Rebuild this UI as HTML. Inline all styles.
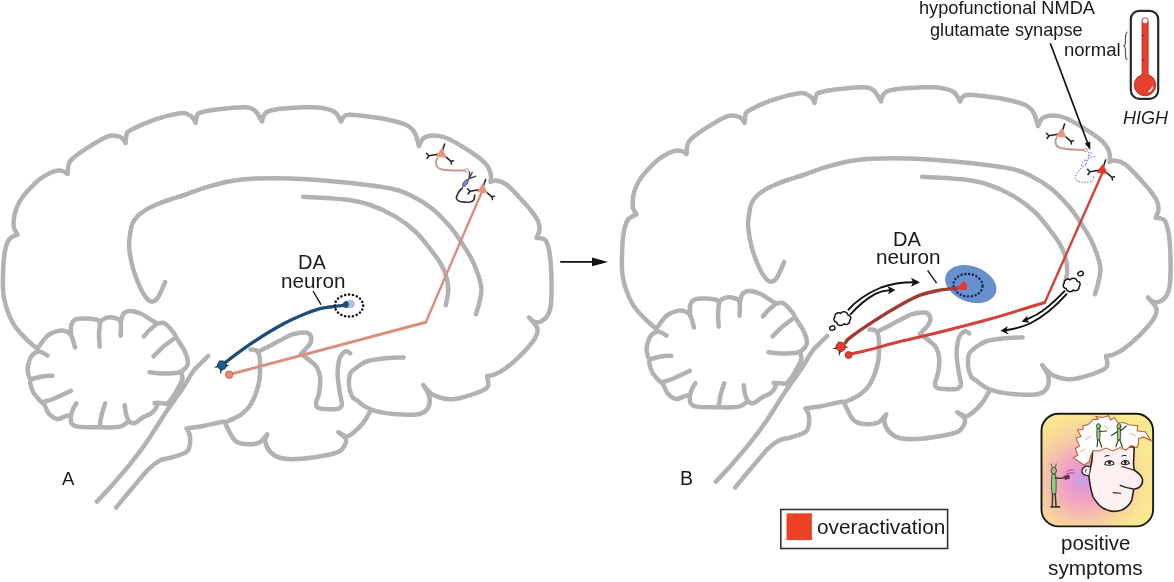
<!DOCTYPE html>
<html><head><meta charset="utf-8"><style>
html,body{margin:0;padding:0;background:#fff;}
body{width:1174px;height:582px;position:relative;overflow:hidden;font-family:"Liberation Sans",sans-serif;color:#1a1a1a;}
svg{position:absolute;left:0;top:0;}
.t{position:absolute;white-space:nowrap;line-height:1;will-change:transform;}
</style></head><body>
<svg width="1174" height="582" viewBox="0 0 1174 582">
<g id="brain" fill="none" stroke="#b2b2b2" stroke-width="4.5" stroke-linecap="round" stroke-linejoin="round"><path d="M37.4 348.9C35.5 347.2 29.9 342.9 25.8 338.6C21.7 334.3 16.6 329.9 12.9 323.0C9.2 316.1 5.5 305.9 3.9 297.3C2.3 288.7 2.9 279.4 3.1 271.5C3.3 263.6 4.1 255.4 5.2 250.0C6.3 244.6 7.4 241.6 9.5 239.0C11.6 236.4 16.2 235.2 17.5 234.5M17.5 234.5C16.9 233.4 14.6 230.4 14.0 228.0C13.4 225.6 13.6 222.8 13.8 220.0C14.1 217.2 14.5 214.2 15.5 211.0C16.5 207.8 18.3 204.0 20.0 201.0C21.7 198.0 22.7 196.5 25.8 193.0C28.9 189.5 34.7 183.3 38.7 180.0C42.7 176.7 46.8 174.6 50.0 173.0C53.2 171.4 55.7 170.8 58.0 170.5C60.3 170.2 62.4 170.9 64.0 171.5C65.6 172.1 66.9 173.6 67.5 174.0M67.5 174.0C67.7 172.5 67.8 167.5 68.5 165.0C69.2 162.5 69.2 161.6 72.0 159.0C74.8 156.4 79.0 153.1 85.0 149.3C91.0 145.5 102.4 138.6 108.0 136.4C113.6 134.2 116.0 136.0 118.5 136.4C121.0 136.8 121.8 137.9 123.0 139.0C124.2 140.1 125.1 142.3 125.5 143.0M125.5 143.0C125.7 141.7 125.8 137.1 126.5 135.0C127.2 132.9 125.3 133.1 130.0 130.5C134.7 127.9 146.3 122.5 154.6 119.6C162.9 116.7 174.4 114.0 180.0 113.2C185.6 112.4 185.8 113.7 188.0 114.5C190.2 115.3 191.8 116.6 193.0 118.0C194.2 119.4 195.1 122.2 195.5 123.0M195.5 123.0C195.8 121.8 196.2 117.8 197.0 116.0C197.8 114.2 197.0 113.6 200.6 112.5C204.2 111.4 211.4 110.1 218.7 109.2C226.0 108.3 238.4 107.0 244.4 107.2C250.4 107.4 251.8 108.2 254.7 110.6C257.6 113.0 260.8 119.7 262.0 121.5M262.0 121.5C262.3 120.4 262.8 116.8 264.0 115.0C265.2 113.2 265.8 112.1 269.0 111.0C272.2 109.9 277.8 109.1 283.0 108.5C288.2 107.9 294.0 107.6 300.0 107.4C306.0 107.2 313.2 106.8 319.0 107.6C324.8 108.4 330.9 109.7 334.6 112.0C338.3 114.3 339.9 119.9 341.0 121.5M341.0 121.5C341.5 120.7 342.7 117.6 344.0 116.5C345.3 115.4 346.1 115.0 348.8 114.8C351.5 114.6 353.8 114.8 360.0 115.6C366.2 116.3 378.1 117.7 385.8 119.3C393.5 120.9 401.6 122.8 406.4 125.0C411.2 127.2 412.4 129.0 414.5 132.5C416.6 136.0 418.2 143.8 419.0 146.0M419.0 146.0C419.8 144.7 421.2 139.8 423.7 138.0C426.2 136.2 430.2 135.5 434.0 135.5C437.8 135.5 441.8 136.2 446.4 138.0C451.0 139.8 456.3 142.9 461.9 146.3C467.5 149.7 475.7 155.1 480.0 158.5C484.3 161.9 485.9 163.8 487.7 166.5C489.5 169.2 490.3 172.1 490.8 174.7C491.3 177.3 490.6 180.8 490.5 182.0M490.5 182.0C491.4 181.8 493.4 180.1 496.0 180.5C498.6 180.9 502.5 181.6 506.3 184.3C510.1 187.0 514.5 192.2 518.6 196.6C522.7 201.0 527.8 206.4 531.0 210.5C534.2 214.6 536.6 217.9 538.0 221.2C539.4 224.4 539.7 227.2 539.5 230.0C539.3 232.8 537.1 236.5 536.6 237.8M536.6 237.8C538.0 238.2 543.1 237.7 545.2 240.0C547.3 242.3 548.3 246.1 549.3 251.5C550.3 256.9 551.0 264.3 551.3 272.2C551.6 280.1 551.7 292.2 551.3 299.0C550.9 305.8 550.4 309.3 548.9 312.9C547.4 316.5 544.9 319.1 542.5 320.6C540.1 322.1 537.0 322.4 534.7 321.9C532.5 321.4 530.0 318.2 529.0 317.5M529.0 317.5C530.4 319.3 536.3 324.9 537.3 328.4C538.2 331.9 537.7 334.0 534.7 338.7C531.7 343.4 524.4 351.5 519.2 356.7C514.1 361.9 508.1 366.6 503.8 369.6C499.5 372.6 496.3 373.7 493.5 374.8C490.7 375.9 488.1 375.8 487.0 376.0M487.0 376.0C487.2 377.5 488.9 382.7 488.3 385.1C487.7 387.5 487.0 388.3 483.1 390.2C479.2 392.1 470.6 395.2 465.0 396.7C459.4 398.2 454.7 399.5 449.6 399.3C444.5 399.1 437.9 396.9 434.2 395.4C430.5 393.9 429.5 391.9 427.7 390.2C425.9 388.5 424.0 386.0 423.3 385.1M423.3 385.1C424.2 386.8 428.1 392.0 429.0 395.4C429.9 398.8 429.9 402.9 429.0 405.7C428.1 408.5 426.4 410.7 423.8 412.2C421.2 413.7 418.6 414.4 413.5 414.7C408.4 415.0 398.6 414.4 393.0 414.0C387.4 413.6 383.6 412.7 380.0 412.0C376.4 411.3 374.2 410.8 371.3 409.6C368.4 408.4 364.9 406.4 362.5 404.8C360.1 403.2 358.6 401.7 356.9 400.3C355.2 398.9 353.5 398.9 352.2 396.6C350.9 394.3 349.5 390.1 349.1 386.3C348.8 382.5 348.9 377.0 350.1 373.9C351.3 370.8 353.6 369.8 356.3 367.7C359.1 365.6 362.1 363.0 366.6 361.5C371.1 360.0 376.9 359.2 383.1 358.5C389.3 357.8 400.3 357.6 403.7 357.4M371.3 409.6C369.9 411.8 366.2 419.1 363.1 423.0C360.0 426.9 355.6 431.1 352.8 433.3C350.1 435.5 349.0 436.6 346.6 436.4C344.2 436.2 339.8 433.0 338.4 432.3M338.4 432.3C339.6 433.3 344.6 436.3 345.6 438.5C346.6 440.7 345.7 443.5 344.5 445.7C343.3 447.9 342.2 450.2 338.4 451.9C334.6 453.6 328.8 454.8 321.9 456.0C315.0 457.2 304.0 458.8 297.1 459.1C290.2 459.4 285.1 459.2 280.6 458.0C276.1 456.8 272.9 454.6 270.3 451.9C267.7 449.1 265.7 444.4 265.2 441.5C264.7 438.6 266.9 435.5 267.2 434.3M267.2 434.3C265.8 435.7 262.6 441.0 259.0 442.6C255.4 444.2 249.5 444.4 245.4 444.0C241.3 443.6 237.8 443.5 234.4 439.9C231.0 436.3 226.4 425.4 224.8 422.5M224.8 422.5C227.3 421.3 235.7 418.2 240.0 415.2C244.3 412.1 247.7 409.7 250.9 404.2C254.1 398.7 257.5 389.2 259.0 382.2C260.5 375.2 260.0 366.6 260.0 362.0C260.0 357.4 259.7 356.5 259.0 354.5C258.3 352.5 257.4 351.0 256.0 350.2C254.6 349.4 251.4 349.7 250.5 349.6M116.1 507.5C118.6 504.6 125.5 496.2 130.9 489.8C136.3 483.4 143.7 474.0 148.6 469.1C153.5 464.2 156.4 462.2 160.4 460.2C164.4 458.2 167.9 458.8 172.3 457.3C176.7 455.8 184.1 453.8 187.0 451.4C189.9 449.0 189.6 445.9 190.0 443.0C190.4 440.1 190.1 436.4 189.5 434.0C188.9 431.6 187.0 429.4 186.5 428.5M186.5 428.5C189.1 428.1 195.8 427.3 201.8 426.2C207.8 425.1 218.7 422.4 222.5 421.8C226.3 421.2 224.4 422.4 224.8 422.5M208.3 356.0C206.9 357.4 202.5 361.6 200.0 364.1C197.5 366.6 196.1 367.1 193.2 371.2C190.3 375.3 186.9 382.0 182.4 388.8C177.9 395.6 171.6 403.7 165.9 412.2C160.2 420.7 153.9 431.5 148.1 440.0C142.3 448.5 136.7 455.9 130.9 463.2C125.1 470.5 118.9 477.5 113.2 483.9C107.5 490.3 99.6 498.7 96.9 501.6M258.5 351.5C259.6 350.9 262.6 349.4 265.0 348.2C267.4 347.0 270.4 345.5 272.9 344.2C275.4 342.9 276.8 342.2 280.0 340.6C283.2 339.0 288.1 335.6 292.4 334.3C296.7 333.0 302.7 332.2 305.8 332.6C308.9 333.0 310.3 334.7 311.0 336.6C311.7 338.5 311.2 341.4 310.0 343.8C308.8 346.2 305.5 349.1 304.0 350.8C302.5 352.5 301.5 353.3 301.0 353.8M301.0 353.8C302.7 355.1 308.3 359.2 311.0 361.5C313.7 363.8 315.6 364.9 317.1 367.7C318.6 370.4 319.9 373.9 320.2 378.0C320.5 382.1 319.9 388.4 319.2 392.5C318.5 396.6 316.3 400.2 316.1 402.8C315.9 405.4 316.2 406.8 318.1 407.9C320.0 409.0 324.1 409.0 327.4 409.2C330.7 409.4 335.3 409.5 337.7 408.8C340.1 408.1 341.5 407.5 341.9 404.8C342.2 402.1 340.5 397.3 339.8 392.5C339.1 387.7 337.9 381.2 337.7 376.0C337.5 370.8 338.1 365.1 338.8 361.5C339.5 357.9 340.7 356.0 341.9 354.3C343.1 352.6 344.6 351.4 346.0 351.2C347.4 351.0 349.4 352.9 350.1 353.3M165.1 282.1C164.0 284.5 160.6 293.1 158.7 296.3C156.8 299.5 155.2 300.8 153.5 301.4C151.8 302.0 150.6 302.3 148.4 300.2C146.2 298.1 143.2 294.0 140.6 288.6C138.0 283.2 134.8 274.9 132.9 268.0C131.0 261.1 129.7 252.8 129.2 247.3C128.7 241.8 129.5 238.9 130.0 235.0C130.5 231.1 131.1 227.1 132.3 224.0C133.5 220.9 134.9 218.9 137.2 216.5C139.4 214.1 142.7 211.8 145.8 209.8C149.0 207.8 152.1 206.4 156.1 204.7C160.1 203.0 165.3 201.1 170.0 199.5C174.7 197.9 178.4 197.0 184.4 195.0C190.4 193.0 198.0 189.7 205.8 187.4C213.7 185.1 223.8 182.4 231.5 181.0C239.2 179.6 242.2 179.1 252.0 178.7C261.8 178.3 275.3 178.0 290.0 178.5C304.7 179.0 323.3 180.3 340.0 181.9C356.7 183.5 378.1 186.0 390.0 188.3C401.9 190.6 404.5 192.3 411.5 195.7C418.5 199.1 425.6 203.4 432.0 208.6C438.4 213.8 445.2 221.2 450.0 226.6C454.8 232.0 456.8 235.3 460.6 241.2C464.4 247.1 469.6 254.3 473.0 261.9C476.4 269.5 480.2 279.8 481.2 286.6C482.2 293.5 480.1 298.4 479.2 303.0C478.3 307.6 476.5 312.3 476.0 314.2M303.1 196.8C309.8 197.2 332.1 198.0 343.1 199.3C354.1 200.6 360.3 201.7 368.9 204.5C377.5 207.3 386.9 211.6 394.6 216.1C402.3 220.6 409.3 225.9 415.3 231.5C421.3 237.1 426.6 244.4 430.7 249.6C434.8 254.8 437.4 258.1 440.0 262.5C442.6 266.9 444.8 271.6 446.2 276.3C447.6 281.0 448.3 285.9 448.2 290.7C448.1 295.5 446.2 302.8 445.8 305.2M38.5 347.0C40.0 345.1 44.2 338.4 47.5 335.7C50.8 333.0 55.3 331.6 58.5 330.9C61.7 330.2 64.5 330.8 66.7 331.6C68.9 332.5 70.1 333.4 71.5 336.0C72.9 338.6 74.4 345.5 75.0 347.4M71.5 337.0C71.4 335.2 70.4 328.9 71.0 326.0C71.6 323.1 72.9 321.1 74.9 319.9C76.9 318.6 80.0 318.6 83.2 318.5C86.4 318.4 91.5 318.6 94.2 319.2C97.0 319.8 98.9 319.5 99.7 322.0C100.5 324.5 99.0 330.2 99.0 334.3C99.0 338.4 99.6 344.6 99.7 346.7M99.7 324.0C100.1 323.3 100.6 321.1 102.0 320.0C103.4 318.9 105.5 317.8 107.9 317.5C110.3 317.2 114.4 317.8 116.5 318.5C118.6 319.2 119.9 319.1 120.6 322.0C121.3 324.9 120.6 333.4 120.6 335.7M120.6 323.0C121.1 321.5 121.8 316.0 123.4 314.0C125.0 312.0 127.2 311.1 130.2 311.0C133.2 310.9 137.5 312.1 141.2 313.7C144.9 315.3 149.4 319.0 152.2 320.6C154.9 322.2 156.8 323.0 157.7 323.5M157.7 323.5C158.8 323.5 162.1 322.0 164.6 323.4C167.1 324.8 170.8 329.1 172.8 331.6C174.9 334.1 174.8 335.1 176.9 338.5C179.0 341.9 183.4 348.3 185.2 352.2C187.0 356.1 187.7 359.4 187.9 361.8C188.1 364.2 187.7 365.2 186.5 366.9C185.3 368.6 181.9 371.1 181.0 372.0M181.0 372.0C181.2 373.2 182.8 376.6 182.4 379.2C182.0 381.8 179.9 384.5 178.3 387.5C176.7 390.5 174.6 394.4 172.8 397.1C171.0 399.9 168.2 402.9 167.3 404.0M167.3 404.0C166.1 403.8 162.1 403.2 160.0 403.0C157.9 402.8 155.4 403.0 154.5 403.0M157.5 404.0C157.1 404.9 156.1 407.9 155.0 409.5C153.9 411.1 152.9 412.2 150.8 413.6C148.7 415.0 145.3 416.1 142.6 417.7C139.8 419.3 136.7 422.6 134.3 423.2C132.0 423.8 129.5 421.8 128.5 421.5M128.5 421.5C127.4 422.2 124.5 425.0 122.0 426.0C119.5 427.0 117.4 427.1 113.7 427.3C110.0 427.5 102.0 427.3 99.7 427.3M99.7 427.3C98.8 427.3 97.9 427.4 94.2 427.3C90.5 427.2 81.5 427.3 77.7 426.6C73.9 425.9 72.7 424.9 71.5 423.2C70.3 421.5 70.9 417.4 70.8 416.3M70.8 415.0C69.9 415.2 67.6 415.6 65.3 416.3C63.0 417.0 59.9 419.4 57.1 419.0C54.4 418.6 50.9 415.9 48.8 413.6C46.7 411.3 45.8 407.1 44.7 405.3C43.6 403.5 42.5 403.1 42.0 402.6M42.0 402.6C41.8 402.4 42.0 402.8 40.6 401.2C39.2 399.6 35.4 396.0 33.7 393.0C32.0 390.0 30.8 385.7 30.3 383.4C29.9 381.1 30.9 379.9 31.0 379.2M31.0 379.2C30.6 378.8 29.5 378.3 28.9 376.5C28.3 374.7 27.5 370.9 27.6 368.2C27.7 365.4 28.8 362.2 29.6 360.0C30.4 357.8 30.8 356.4 32.4 355.0C34.0 353.6 36.7 351.4 39.2 351.5C41.7 351.6 46.1 354.9 47.5 355.6M155.0 325.4C154.0 326.2 150.8 328.7 149.0 330.5C147.2 332.3 144.8 335.4 144.0 336.4M172.8 339.5C171.2 340.8 166.2 344.2 163.0 347.0C159.8 349.8 155.2 354.8 153.6 356.3M181.0 371.5C180.0 371.8 178.2 372.7 175.0 373.0C171.8 373.3 166.2 373.6 162.0 373.5C157.8 373.4 151.6 372.4 149.5 372.2M128.5 421.0C128.1 419.8 126.6 416.6 126.0 414.0C125.4 411.4 124.9 406.8 124.7 405.3M99.7 426.0C99.9 424.7 100.5 420.3 101.0 418.0C101.5 415.7 101.7 414.6 102.4 412.2C103.1 409.8 104.7 404.8 105.2 403.3M70.8 416.0C71.2 414.8 72.1 411.1 73.0 409.0C73.9 406.9 75.8 404.2 76.3 403.3M42.0 402.6C44.0 401.9 49.5 400.4 54.3 398.5C59.1 396.6 68.0 392.2 70.8 390.9M31.0 379.2C32.8 378.8 38.5 377.1 42.0 376.5C45.5 375.9 50.6 375.9 52.3 375.8"/></g>
<use href="#brain" transform="translate(619,-20)"/>
<path d="M233 373.6 L425.8 322.3" fill="none" stroke="#d6907f" stroke-width="3.1" stroke-linecap="round"/>
<path d="M425.8 322.3 L482 191.5" fill="none" stroke="#d6907f" stroke-width="2.4" stroke-linecap="round"/>
<circle cx="229.2" cy="374.7" r="3.7" fill="#e2907c" stroke="#c46a58" stroke-width="1"/>
<path d="M224.5 363.2C227.1 361.2 233.2 356.1 240.0 351.3C246.8 346.5 257.5 339.2 265.0 334.5C272.5 329.8 279.2 326.1 285.0 323.0C290.8 319.9 294.2 318.4 300.0 316.0C305.8 313.6 314.2 310.3 320.0 308.7C325.8 307.1 331.2 306.9 335.0 306.4C338.8 305.9 341.7 305.7 343.0 305.6" fill="none" stroke="#1d4e78" stroke-width="3.3" stroke-linecap="round"/>
<polygon points="218.4,364.9 213.7,367.4 219.0,367.4" fill="#14324f"/><polygon points="220.1,368.4 220.1,374.7 222.6,368.9" fill="#14324f"/><polygon points="225.3,366.8 229.4,365.7 225.5,364.2" fill="#14324f"/><polygon points="221.6,361.7 219.4,360.0 219.3,362.8" fill="#14324f"/><circle cx="222" cy="365.3" r="4.4" fill="#1f5d8c" stroke="#123a5c" stroke-width="1"/>
<ellipse cx="350.3" cy="304" rx="4.6" ry="4.2" fill="#aabfe2"/>
<path d="M340 306 C343 304 344 301 346.5 301 C349.5 301 349.5 308 346.5 308 C344 308 343 306 340 306Z" fill="#1d4e78"/>
<ellipse cx="349" cy="305.6" rx="14.2" ry="11" fill="none" stroke="#111" stroke-width="2.5" stroke-dasharray="0.1 3.85" stroke-linecap="round"/>
<line x1="313" y1="291" x2="321" y2="304.6" stroke="#111" stroke-width="1.3"/>
<path d="M437.9 157.5 C434 163 436 168 442 169.5 C450 171 458 170.5 465.3 170.5" fill="none" stroke="#c99a94" stroke-width="2"/>
<circle cx="466.7" cy="170.5" r="1.7" fill="#fff" stroke="#b58a8a" stroke-width="1"/>
<g transform="translate(441,153.5) scale(1.0)">
<path d="M1.5 -3 L3.6 -9.5 M-3 0.8 L-12 2.2 M-12 2.2 L-14.5 -0.2 M-12 2.2 L-14 5 M4.5 3.2 L10 7.8 M10 7.8 L12.5 7.2 M10 7.8 L10.5 10.5" stroke="#222" stroke-width="1.5" fill="none" stroke-linecap="round"/>
<path d="M0.8 -4.6 L-4.3 2.6 L4.6 3.6 Z" fill="#e9967e" stroke="#e9967e" stroke-width="1.4" stroke-linejoin="round"/>
</g>
<g transform="translate(482,189) scale(1.0)">
<path d="M1.5 -3 L3.6 -9.5 M-3 0.8 L-12 2.2 M-12 2.2 L-14.5 -0.2 M-12 2.2 L-14 5 M4.5 3.2 L10 7.8 M10 7.8 L12.5 7.2 M10 7.8 L10.5 10.5" stroke="#222" stroke-width="1.5" fill="none" stroke-linecap="round"/>
<path d="M0.8 -4.6 L-4.3 2.6 L4.6 3.6 Z" fill="#e9967e" stroke="#e9967e" stroke-width="1.4" stroke-linejoin="round"/>
</g>
<path d="M466.8 181 L469.2 178.5 M469.6 172 L469.2 178.5 M472.2 172.5 L469.2 178.5 M475.6 176.3 L469.2 178.5" stroke="#3a4538" stroke-width="1.4" fill="none" stroke-linecap="round"/>
<ellipse cx="465.3" cy="183.2" rx="1.9" ry="4" transform="rotate(35 465.3 183.2)" fill="#8a7fd0" stroke="#4a4470" stroke-width="0.8"/>
<path d="M462.2 188.0C461.6 188.8 459.4 190.9 458.4 192.6C457.4 194.3 456.3 196.8 456.4 198.2C456.5 199.6 457.8 200.6 459.2 201.3C460.6 202.0 463.2 202.1 465.0 202.2C466.8 202.3 468.6 202.3 470.0 202.0C471.4 201.7 472.8 201.4 473.6 200.3C474.4 199.2 474.6 196.0 474.8 195.2" fill="none" stroke="#2f3140" stroke-width="1.7" stroke-linecap="round"/>
<path d="M851.8 353.8C854.8 353.1 862.0 351.7 870.0 349.6C878.0 347.6 888.3 344.4 900.0 341.5C911.7 338.6 925.0 335.8 940.0 332.0C955.0 328.2 972.5 323.9 990.0 319.0C1007.5 314.1 1035.7 305.2 1044.8 302.5" fill="none" stroke="#d2413a" stroke-width="3" stroke-linecap="round"/>
<path d="M1044.8 302.5 L1103 171.5" fill="none" stroke="#d2413a" stroke-width="2.4" stroke-linecap="round"/>
<circle cx="848.6" cy="355" r="3.4" fill="#ea3a2e" stroke="#a8302a" stroke-width="1"/>
<ellipse cx="970.8" cy="284.1" rx="26" ry="17.3" fill="#6790cc" stroke="#5a7fbe" stroke-width="0.8" transform="rotate(20 970.8 284.1)"/>
<ellipse cx="968" cy="285.2" rx="14.6" ry="11.3" fill="none" stroke="#15244e" stroke-width="2.4" stroke-dasharray="0.1 3.7" stroke-linecap="round" transform="rotate(6 968 285.2)"/>
<path d="M845.6 342.6C846.3 341.8 845.1 341.3 850.0 337.6C854.9 333.9 866.7 325.8 875.0 320.4C883.3 315.0 892.5 309.5 900.0 305.3C907.5 301.1 913.3 297.7 920.0 295.2C926.7 292.7 933.7 291.4 940.0 290.2C946.3 289.0 955.0 288.4 958.0 288.0" fill="none" stroke="#9e3b35" stroke-width="3.4" stroke-linecap="round"/>
<path d="M956 288 C959 287 961 283 963.5 281.5 C966.5 281 968 288 966.5 289.5 C964 291 960 289.5 956 288Z" fill="#e63a2e"/>
<polygon points="837.0,346.4 832.3,348.9 837.6,348.9" fill="#2a2a22"/><polygon points="838.8,350.1 838.9,356.4 841.4,350.6" fill="#2a2a22"/><polygon points="844.3,348.3 848.4,347.2 844.5,345.7" fill="#2a2a22"/><polygon points="840.4,343.0 838.1,341.3 838.0,344.2" fill="#2a2a22"/><circle cx="840.8" cy="346.8" r="4.6" fill="#ec3b2c" stroke="#9a2a22" stroke-width="1"/>
<line x1="927.6" y1="270.3" x2="936.6" y2="283.1" stroke="#111" stroke-width="1.3"/>
<path d="M1057 137 C1054 141 1055 146 1060 147.9 C1068 149.5 1076 149.8 1084 150" fill="none" stroke="#c99a94" stroke-width="2"/>
<circle cx="1085.6" cy="150.2" r="1.7" fill="#fff" stroke="#b58a8a" stroke-width="1"/>
<g transform="translate(1061,133.5) scale(1.0)">
<path d="M1.5 -3 L3.6 -9.5 M-3 0.8 L-12 2.2 M-12 2.2 L-14.5 -0.2 M-12 2.2 L-14 5 M4.5 3.2 L10 7.8 M10 7.8 L12.5 7.2 M10 7.8 L10.5 10.5" stroke="#222" stroke-width="1.5" fill="none" stroke-linecap="round"/>
<path d="M0.8 -4.6 L-4.3 2.6 L4.6 3.6 Z" fill="#e9967e" stroke="#e9967e" stroke-width="1.4" stroke-linejoin="round"/>
</g>
<g transform="translate(1102,169.5) scale(1.0)">
<path d="M1.5 -3 L3.6 -9.5 M-3 0.8 L-12 2.2 M-12 2.2 L-14.5 -0.2 M-12 2.2 L-14 5 M4.5 3.2 L10 7.8 M10 7.8 L12.5 7.2 M10 7.8 L10.5 10.5" stroke="#222" stroke-width="1.5" fill="none" stroke-linecap="round"/>
<path d="M0.8 -4.6 L-4.3 2.6 L4.6 3.6 Z" fill="#e8352a" stroke="#e8352a" stroke-width="1.4" stroke-linejoin="round"/>
</g>
<g transform="translate(619,-20)" fill="none" stroke="#8f88d4" stroke-width="1.3" stroke-dasharray="1.4 1.4"><path d="M466.8 181 L469.2 178.5 M469.6 172 L469.2 178.5 M472.2 172.5 L469.2 178.5 M475.6 176.3 L469.2 178.5"/><ellipse cx="465.3" cy="183.2" rx="1.9" ry="4" transform="rotate(35 465.3 183.2)"/><path d="M462.2 188.0C461.6 188.8 459.4 190.9 458.4 192.6C457.4 194.3 456.3 196.8 456.4 198.2C456.5 199.6 457.8 200.6 459.2 201.3C460.6 202.0 463.2 202.1 465.0 202.2C466.8 202.3 468.6 202.3 470.0 202.0C471.4 201.7 472.8 201.4 473.6 200.3C474.4 199.2 474.6 196.0 474.8 195.2"/></g>
<line x1="1050.3" y1="43.2" x2="1088" y2="144" stroke="#111" stroke-width="1.7"/>
<polygon points="1090.3,150 1090.2,141.6 1084.8,143.6" fill="#111"/>
<g fill="none" stroke="#111" stroke-width="1.9" stroke-linecap="round"><path d="M848.5 309.7 C856 301 868 293 881 287.5 C892 283.5 903 282.3 914 282.3"/><path d="M850.7 314.1 C857 307 866 299 875.3 293.8 C880 291.5 885 290.5 890 290.1"/><path d="M1064.5 291.1 C1056 300 1045 310 1036 315 C1032 317 1029 318.5 1026 319.5"/><path d="M1066.5 294.2 C1057 305 1045 316 1030 323.5 C1020 328 1012 329.5 1005 330.2"/></g>
<g fill="#111"><polygon points="920,282.3 911,277.8 913,282.3 911,286.8"/><polygon points="895.5,290 887.5,286 889.5,290.2 888,294.3"/><polygon points="1021.5,321.8 1027.5,315.5 1026.8,319.8 1030,322.8"/><polygon points="1000.5,330.8 1008,326 1006,330.3 1008.5,334.5"/></g>
<path d="M849.8 320.2A3.8 3.8 0 0 1 844.0 323.9A4.2 4.2 0 0 1 836.6 322.3A3.1 3.1 0 0 1 834.8 317.0A3.8 3.8 0 0 1 840.6 313.3A4.2 4.2 0 0 1 848.0 314.9A3.1 3.1 0 0 1 849.8 320.2Z" fill="#fff" stroke="#111" stroke-width="1.5"/>
<ellipse cx="832.3" cy="328.1" rx="2.8" ry="2.1" transform="rotate(-20 832.3 328.1)" fill="#fff" stroke="#111" stroke-width="1.4"/>
<path d="M1079.2 286.5A3.7 3.7 0 0 1 1073.4 290.0A4.2 4.2 0 0 1 1066.0 288.5A3.0 3.0 0 0 1 1064.2 283.3A3.7 3.7 0 0 1 1070.0 279.8A4.2 4.2 0 0 1 1077.4 281.3A3.0 3.0 0 0 1 1079.2 286.5Z" fill="#fff" stroke="#111" stroke-width="1.5"/>
<ellipse cx="1080.6" cy="273.6" rx="2.8" ry="2.1" transform="rotate(-20 1080.6 273.6)" fill="#fff" stroke="#111" stroke-width="1.4"/>
<line x1="560.2" y1="261.9" x2="596" y2="261.9" stroke="#111" stroke-width="1.9"/>
<polygon points="608,261.9 592,257.6 592,266.2" fill="#111"/>
<rect x="1130.8" y="10.8" width="27.4" height="88" rx="8.5" fill="#fff" stroke="#2a2a2a" stroke-width="2.2"/>
<rect x="1142" y="17.8" width="6.2" height="62" rx="3.1" fill="#e8402e" stroke="#8a2a20" stroke-width="0.7"/>
<circle cx="1145" cy="85" r="10.8" fill="#e8402e" stroke="#8a2a20" stroke-width="0.7"/>
<rect x="1142.35" y="70" width="5.5" height="8" fill="#e8402e"/>
<circle cx="1145.1" cy="20.8" r="2.5" fill="#fff"/>
<path d="M1149 91.5 C1150.8 90.5 1152 89 1152.6 87" stroke="#fff" stroke-width="1.5" fill="none" stroke-linecap="round"/>
<path d="M1142.3 35.5 h2 M1142.3 60.3 h2" stroke="#6a1a10" stroke-width="1"/>
<path d="M1127.5 32 C1125 32.5 1125.5 36 1125.5 41 C1125.5 44 1125 45.7 1123.5 46 C1125 46.3 1125.5 48 1125.5 51 C1125.5 56 1125 59 1127.5 59.5" fill="none" stroke="#555" stroke-width="1.2"/>
<rect x="780.8" y="509.5" width="166.8" height="39" fill="#fff" stroke="#333" stroke-width="1.6"/>
<rect x="786.5" y="513.3" width="25.4" height="26.8" fill="#ec4326"/>
<defs><radialGradient id="pg" gradientUnits="userSpaceOnUse" cx="1083" cy="480" r="74">
<stop offset="0" stop-color="#c2a2e8"/><stop offset="0.14" stop-color="#e29bd2"/><stop offset="0.32" stop-color="#f2a6bf"/><stop offset="0.58" stop-color="#f7cca2"/><stop offset="0.86" stop-color="#f9e592"/><stop offset="1" stop-color="#f9ea90"/></radialGradient></defs>
<rect x="1041.5" y="413.8" width="111.6" height="112.6" rx="17" fill="url(#pg)" stroke="#1a1a14" stroke-width="1.9"/>
<path d="M1092.7 449 C1100 447 1125 446 1134.2 447 L1133.5 463.7 C1133.7 467 1134 469.5 1134.9 470.6 C1137 472 1141 474.5 1142.4 478.9 C1143 482 1142 485 1139 487.5 C1136 489 1133.5 489 1133.5 489.9 C1133 494 1132.5 498 1131.4 500.9 C1129.5 505 1126.6 507.7 1122 510 C1118.4 511.2 1112 511.5 1108.7 510.5 C1104 509 1101 507.5 1099.1 505 C1096 501.5 1094 499 1093 496.7 C1091.5 492 1090.6 488 1090.2 485.7 L1088.8 476.1 L1092 460 Z" fill="#fcf0f0" stroke="#2a2222" stroke-width="1.6" stroke-linejoin="round"/>
<path d="M1084 465 L1073.4 458 L1078 455 L1075.2 448.4 L1079.5 446 L1076 438 L1081 436.5 L1077.5 430 L1083 429.5 L1082.9 426 L1089 424 L1093.2 419.2 L1098 419.5 L1096 416.6 L1102 417.5 L1108.7 415.6 L1110.5 420 L1114.7 417.8 L1118.1 423 L1124 422.5 L1128.4 424.8 L1137.9 425.8 L1137 430.8 L1145.6 432 L1150.8 440.6 L1143.9 437.2 L1138.5 438.5 L1138.5 444 L1137 447.5 L1131 445.5 L1126 450 L1120 447.5 L1113 451 L1106 448 L1099 451 L1093 450.5 L1091 455 L1089 462 Z" fill="#fff" stroke="#c0603c" stroke-width="1.1" stroke-linejoin="miter" stroke-miterlimit="6"/>
<path d="M1085 440 L1091 436 M1104 425 L1108 429 M1130 433 L1136 436 M1080 452 L1085 449" stroke="#d89880" stroke-width="0.8" fill="none"/>
<path d="M1089.8 467 C1087 465 1083 466.5 1082 470 C1081.5 473.5 1084 476 1089 475.5" fill="#fcf0f0" stroke="#2a2222" stroke-width="1.3"/>
<path d="M1087 469.5 C1085.5 470 1085 471.5 1085.8 472.5" fill="none" stroke="#2a2222" stroke-width="0.9"/>
<path d="M1121.5 466.5 C1125 467.5 1130 468.5 1134.9 470.6" fill="none" stroke="#2a2222" stroke-width="1.2"/>
<path d="M1119.7 485.1 C1123 486.5 1127 488.3 1133.5 489" fill="none" stroke="#2a2222" stroke-width="1.3"/>
<path d="M1112.9 492.6 L1121.1 493.3" stroke="#2a2222" stroke-width="1.1"/>
<g fill="#fff" stroke="#2a2222" stroke-width="1.1"><path d="M1104.8 464.5 C1105.5 460 1113 459.5 1114 464 C1111 465.5 1107.5 465.5 1104.8 464.5Z"/><path d="M1121.2 463.8 C1122 459.5 1128.5 459.5 1129.4 463.6 C1126.5 465 1124 465 1121.2 463.8Z"/></g>
<g fill="#2a2222"><ellipse cx="1109.5" cy="462.6" rx="1.5" ry="1.8"/><ellipse cx="1125.3" cy="462.2" rx="1.4" ry="1.7"/></g>
<path d="M1104.5 456.5 q2.5 -1.5 5 -0.8 M1121.5 456.2 q2.5 -1.5 5 -0.5" stroke="#2a2222" stroke-width="1" fill="none"/>
<g fill="#92c97c" stroke="#28401c" stroke-width="0.8" stroke-linejoin="round" stroke-linecap="round"><path d="M1051.3 464 L1052.3 467.5 M1056.2 464 L1055.3 467.5" fill="none"/><ellipse cx="1053.8" cy="470.6" rx="2.7" ry="3.3"/><path d="M1052 474.5 C1051.2 481 1051.3 488 1052 494 L1055.8 494 C1056.4 488 1056.4 481 1055.6 474.5 Z"/><path d="M1052.6 494 L1052.3 506 M1055.2 494 L1056 506" fill="none" stroke-width="1.5"/><path d="M1051 506.8 L1053.5 506.8 M1055 506.8 L1059.5 506.8" fill="none" stroke-width="1.8"/><path d="M1055.3 478 L1061.5 478.3 L1065 477.2" fill="none" stroke-width="1.3"/><ellipse cx="1098.4" cy="426.3" rx="2" ry="2.7"/><path d="M1097 429 C1096.5 433 1096.7 437 1097.3 440 L1099.6 440 C1100.2 437 1100.2 433 1099.8 429Z"/><path d="M1097.7 440 L1097 446.7 M1099.2 440 L1101.8 447.3 M1099.8 431.5 L1106.5 431" fill="none" stroke-width="1.1"/><ellipse cx="1119" cy="426.3" rx="2" ry="2.7"/><path d="M1117.6 429 C1117.1 433 1117.3 437 1117.9 440 L1120.2 440 C1120.8 437 1120.8 433 1120.4 429Z"/><path d="M1118.3 440 L1115.8 446.7 M1119.8 440 L1122.5 447.3 M1120.4 431 L1126.2 426 M1117.4 431.5 L1111.5 435.5" fill="none" stroke-width="1.1"/></g>
<path d="M1063.5 476 L1069 474.5 L1070 478.5 L1065 480 Z" fill="#6a2a50"/>
<path d="M1066.5 471.5 C1069 470 1072 469.5 1074 470 M1066 474 C1069 472.8 1072 472.5 1074.5 473" fill="none" stroke="#a04898" stroke-width="1"/>
</svg>
<div class="t" style="left:298.3px;top:252px;font-size:20px;">DA</div>
<div class="t" style="left:281.3px;top:270.5px;font-size:20.7px;">neuron</div>
<div class="t" style="left:893.3px;top:228.5px;font-size:20px;">DA</div>
<div class="t" style="left:876.3px;top:247px;font-size:20.7px;">neuron</div>
<div class="t" style="left:61.7px;top:469.6px;font-size:18.5px;">A</div>
<div class="t" style="left:679.6px;top:468.5px;font-size:19.5px;">B</div>
<div class="t" style="left:919px;top:-1.1px;font-size:18.2px;">hypofunctional NMDA</div>
<div class="t" style="left:930.2px;top:20.6px;font-size:18.2px;">glutamate synapse</div>
<div class="t" style="left:1064.2px;top:40.8px;font-size:18.5px;">normal</div>
<div class="t" style="left:1122.5px;top:108.8px;font-size:18px;font-style:italic;">HIGH</div>
<div class="t" style="left:816.6px;top:516.8px;font-size:20.8px;">overactivation</div>
<div class="t" style="left:1061px;top:533.4px;font-size:20.5px;">positive</div>
<div class="t" style="left:1048px;top:557.6px;font-size:20.8px;">symptoms</div>
</body></html>
